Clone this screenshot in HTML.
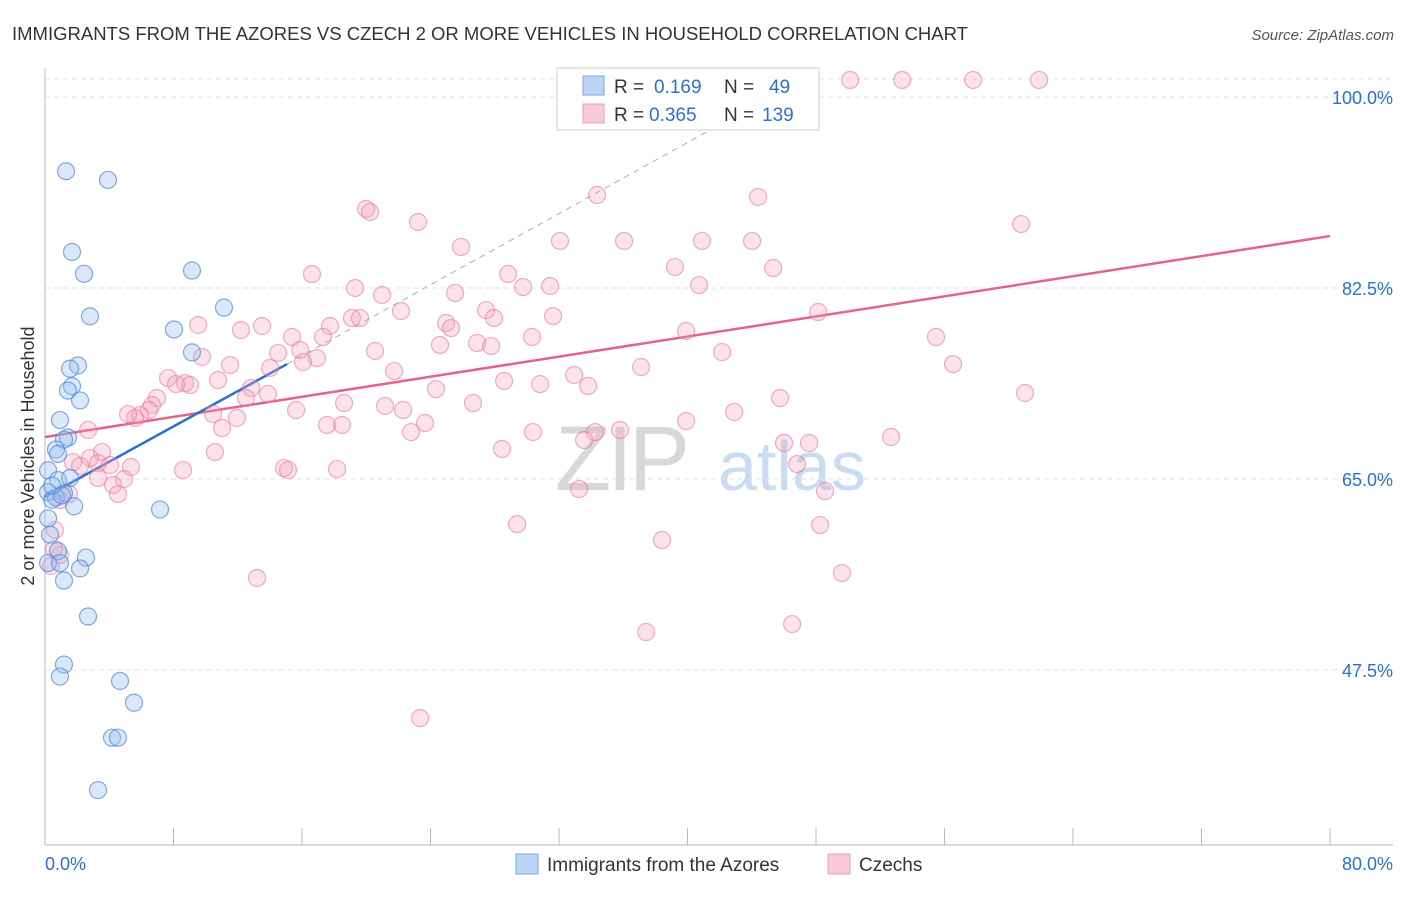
<!DOCTYPE html>
<html><head><meta charset="utf-8"><style>
body{margin:0;background:#fff;font-family:"Liberation Sans",sans-serif;}
svg text{font-family:"Liberation Sans",sans-serif;}
</style></head><body>
<svg id="chart" width="1406" height="892" viewBox="0 0 1406 892" xmlns="http://www.w3.org/2000/svg">
<text x="12" y="40" font-size="18.5" fill="#333">IMMIGRANTS FROM THE AZORES VS CZECH 2 OR MORE VEHICLES IN HOUSEHOLD CORRELATION CHART</text>
<text x="1394" y="40" font-size="15" fill="#555" text-anchor="end" font-style="italic">Source: ZipAtlas.com</text>
<g>
<text x="555" y="490" font-size="92" fill="#d8d8d8" font-family="Liberation Serif" letter-spacing="-4">ZIP</text>
<text x="718" y="490" font-size="70" fill="#c9dcf2">atlas</text>
</g>
<g id="grid"></g>
<g id="axes"></g>
<g id="trends"></g>
<g id="pts"></g>
<g>
<rect x="557" y="68" width="262" height="62" fill="#fff" stroke="#ccc"/>
<rect x="583" y="76" width="21" height="19" fill="#bcd5f5" stroke="#7aa6e0"/>
<rect x="583" y="104" width="21" height="19" fill="#f9cad8" stroke="#ec9db5"/>
<text x="614" y="93" font-size="19" fill="#333">R =</text>
<text x="654" y="93" font-size="19" fill="#2d6fcf">0.169</text>
<text x="724" y="93" font-size="19" fill="#333">N =</text>
<text x="769" y="93" font-size="19" fill="#2d6fcf">49</text>
<text x="614" y="121" font-size="19" fill="#333">R =</text>
<text x="649" y="121" font-size="19" fill="#2d6fcf">0.365</text>
<text x="724" y="121" font-size="19" fill="#333">N =</text>
<text x="762" y="121" font-size="19" fill="#2d6fcf">139</text>
</g>
<text transform="translate(34,456) rotate(-90)" font-size="18" fill="#333" text-anchor="middle">2 or more Vehicles in Household</text>
<text x="45" y="870" font-size="18" fill="#2d6fcf">0.0%</text>
<text x="1393" y="870" font-size="18" fill="#2d6fcf" text-anchor="end">80.0%</text>
<g>
<rect x="516" y="854" width="22" height="20" fill="#bcd5f5" stroke="#7aa6e0"/>
<text x="547" y="871" font-size="19" fill="#333">Immigrants from the Azores</text>
<rect x="828" y="854" width="22" height="20" fill="#f9cad8" stroke="#ec9db5"/>
<text x="859" y="871" font-size="19" fill="#333">Czechs</text>
</g>
</svg>
<script>
const yTicks=[100,82.5,65,47.5];
const yTickLabels=["100.0%","82.5%","65.0%","47.5%"];
const xTicks=[0,8,16,24,32,40,48,56,64,72,80];
const azX=[1.31,3.92,1.68,2.43,9.15,11.14,2.80,8.03,9.15,2.05,1.56,1.68,1.43,2.18,0.93,1.43,1.18,0.68,0.81,0.19,0.81,1.56,0.19,1.18,0.68,0.44,1.81,7.16,0.19,0.31,0.81,2.55,2.18,0.19,0.93,1.18,2.68,1.18,0.93,4.67,5.54,4.17,4.54,3.30,0.44,1.06];
const azY=[93.2,92.4,85.8,83.8,84.1,80.7,79.9,78.7,76.6,75.4,75.1,73.5,73.1,72.2,70.4,68.8,68.6,67.7,67.3,65.8,64.9,65.1,63.8,63.7,63.3,63.1,62.5,62.2,61.4,59.9,58.4,57.8,56.8,57.3,57.3,55.7,52.4,48.0,46.9,46.5,44.5,41.3,41.3,36.5,64.4,63.5];
const czX=[36.24,41.65,50.12,53.36,57.78,61.89,34.37,44.39,19.99,20.23,23.22,60.77,25.90,32.06,36.05,40.90,44.02,16.62,28.83,39.22,45.33,19.30,20.98,25.53,29.76,31.44,40.72,22.16,27.46,27.95,31.63,48.13,19.11,19.61,17.74,24.97,25.28,17.31,15.38,9.53,12.20,13.51,39.91,55.47,26.90,27.77,24.59,30.32,14.51,15.88,16.93,16.06,20.55,42.15,9.77,11.52,14.01,37.11,56.53,21.73,28.58,30.82,32.94,33.81,24.34,7.66,8.72,9.03,10.77,12.83,6.97,8.16,18.62,21.17,22.29,26.65,12.51,13.88,45.76,61.01,6.66,10.46,11.95,15.63,6.47,5.91,5.60,5.17,42.90,39.91,11.02,17.56,18.49,22.79,23.66,30.38,35.80,34.24,33.56,52.67,2.68,28.45,3.55,10.58,46.01,47.57,1.74,2.80,2.18,3.30,4.05,5.35,8.59,14.88,15.13,18.18,3.30,4.92,4.23,46.82,4.54,33.25,48.56,1.49,0.93,29.39,48.25,0.62,38.41,0.56,0.93,49.62,13.20,0.37,37.42,46.51,23.35];
const czY=[101.56,101.56,101.56,101.56,101.56,101.56,91.02,90.84,89.74,89.46,88.55,88.36,86.26,86.81,86.81,86.81,86.81,83.78,83.78,84.42,84.33,82.50,81.86,82.04,82.59,82.68,82.77,80.39,80.48,79.75,79.93,80.30,79.75,79.75,79.02,79.29,78.83,78.01,78.01,79.11,78.65,79.02,78.56,78.01,77.46,77.18,77.28,78.01,76.54,76.82,76.08,75.72,76.73,76.63,76.18,75.44,75.17,75.26,75.53,74.89,73.98,73.70,74.53,73.52,73.24,74.25,73.79,73.61,74.07,73.34,72.42,73.70,71.96,71.69,71.32,71.96,72.42,72.79,72.42,72.88,71.78,70.95,70.59,71.32,71.32,70.86,70.59,70.95,71.14,70.31,69.67,69.95,69.95,69.30,70.13,69.30,69.49,69.30,68.57,68.85,69.49,67.75,67.47,67.47,68.30,68.30,66.55,66.92,66.19,66.46,66.28,66.10,65.82,66.00,65.82,65.91,65.09,65.00,64.45,66.37,63.62,64.08,63.90,63.62,63.07,60.87,60.78,60.32,59.41,58.58,58.03,56.38,55.93,57.03,50.98,51.71,43.10];
const azTrend=[0,63.35,15.07,75.53,45,99.9];
const czTrend=[0,68.85,80,87.26];
const NS="http://www.w3.org/2000/svg";
const X=v=>45+v*(1285/80);
const Y=v=>97+(100-v)*(191/17.5);
function mk(t,a,p){const e=document.createElementNS(NS,t);for(const k in a)e.setAttribute(k,a[k]);document.getElementById(p).appendChild(e);return e;}
yTicks.forEach((t,i)=>{
 const l=mk('line',{x1:45,x2:1393,y1:Y(t),y2:Y(t),stroke:'#e2e2e2','stroke-dasharray':'5,4'},'grid');
 
 
 const tx=mk('text',{x:1393,y:Y(t)+7,'font-size':18,fill:'#2d6fcf','text-anchor':'end'},'grid');
 tx.textContent=yTickLabels[i];
 
 
});
const tl=mk('line',{x1:45,x2:1393,y1:79,y2:79,stroke:'#e2e2e2','stroke-dasharray':'5,4'},'grid');


const ya=mk('line',{x1:45,x2:45,y1:68,y2:845,stroke:'#bbb'},'axes');


const xa=mk('line',{x1:45,x2:1393,y1:845,y2:845,stroke:'#bbb'},'axes');


xTicks.forEach(t=>{
 const k=mk('line',{x1:X(t),x2:X(t),y1:828,y2:845,stroke:'#bbb'},'axes');
 
 
});
const pl=mk('line',{x1:X(czTrend[0]),y1:Y(czTrend[1]),x2:X(czTrend[2]),y2:Y(czTrend[3]),stroke:'#e4628d','stroke-width':2.5},'trends');


const bd=mk('line',{x1:X(azTrend[2]),y1:Y(azTrend[3]),x2:X(azTrend[4]),y2:Y(azTrend[5]),stroke:'#8fb2e0','stroke-width':1,'stroke-dasharray':'6,5'},'trends');


const bl=mk('line',{x1:X(azTrend[0]),y1:Y(azTrend[1]),x2:X(azTrend[2]),y2:Y(azTrend[3]),stroke:'#2d6fcf','stroke-width':2.5},'trends');


czX.forEach((v,i)=>{
 const c=mk('circle',{cx:X(v),cy:Y(czY[i]),r:8.5,fill:'rgba(244,160,188,0.3)',stroke:'rgba(232,120,158,0.6)','stroke-width':1.2},'pts');
 
 
});
azX.forEach((v,i)=>{
 const c=mk('circle',{cx:X(v),cy:Y(azY[i]),r:8.5,fill:'rgba(150,190,240,0.35)',stroke:'rgba(80,135,215,0.7)','stroke-width':1.2},'pts');
 
 
});
</script>
</body></html>
